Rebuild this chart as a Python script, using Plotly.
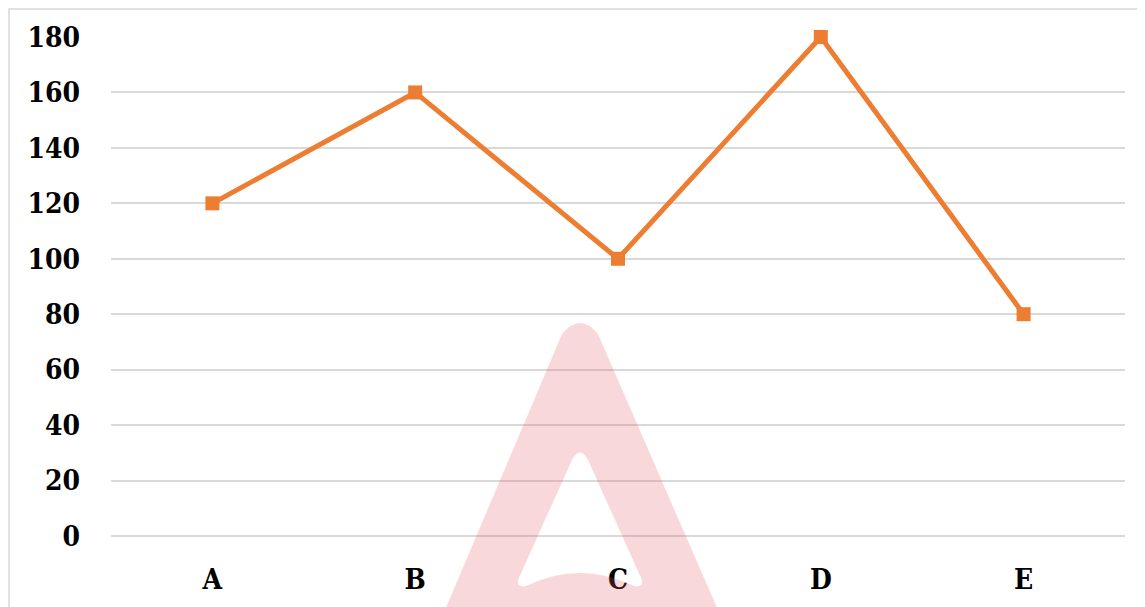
import plotly.graph_objects as go

categories = ["A", "B", "C", "D", "E"]
values = [120, 160, 100, 180, 80]
y_ticks = [0, 20, 40, 60, 80, 100, 120, 140, 160, 180]

W, H = 1145, 607
OFF = 8  # page body margin
L, T = 111 - OFF, 37 - OFF
PW, PH = 1014, 499
R, B = W - L - PW, H - T - PH

def px(x):
    return (x - OFF - L) / PW

def py(y):
    return (T + PH - (y - OFF)) / PH

FONT = dict(family="DejaVu Serif Condensed, DejaVu Serif, serif", size=28,
            color="#000000", weight="bold")

fig = go.Figure()
fig.add_trace(go.Scatter(
    x=categories, y=values, mode="lines+markers",
    line=dict(color="#ED7D31", width=5),
    marker=dict(symbol="square", size=14, color="#ED7D31"),
    cliponaxis=False, showlegend=False,
))

# watermark "A" logo
outer = (f"M {px(445)},{py(610)} L {px(562)},{py(334)} "
         f"Q {px(580)},{py(312)} {px(598)},{py(334)} "
         f"L {px(718)},{py(610)} Z")
inner = (f"M {px(572)},{py(460)} Q {px(580)},{py(445)} {px(588)},{py(460)} "
         f"L {px(642)},{py(580)} Q {px(643)},{py(588)} {px(634)},{py(586)} "
         f"Q {px(580)},{py(560)} {px(526)},{py(586)} "
         f"Q {px(517)},{py(588)} {px(518)},{py(580)} Z")
fig.add_shape(type="path", xref="paper", yref="paper", path=outer + " " + inner,
              fillcolor="rgba(230,90,110,0.24)", line=dict(width=0),
              fillrule="evenodd", layer="above")

# outer frame (as close to the page edge as the canvas allows)
fig.add_shape(type="rect", xref="paper", yref="paper",
              x0=px(OFF + 1), x1=px(1170), y0=py(630), y1=py(OFF + 1),
              line=dict(color="#d9d9d9", width=1.5), fillcolor="rgba(0,0,0,0)",
              layer="below")

fig.update_layout(
    width=W, height=H,
    margin=dict(l=L, r=R, t=T, b=B),
    paper_bgcolor="white", plot_bgcolor="white",
    font=FONT,
    xaxis=dict(type="category", range=[-0.5, 4.5], showgrid=False, zeroline=False,
               showline=False, ticks="", tickfont=FONT, ticklabelstandoff=24),
    yaxis=dict(range=[0, 180], tickvals=y_ticks, showgrid=True, gridcolor="#d9d9d9",
               gridwidth=1.5, zeroline=True, zerolinecolor="#d9d9d9", zerolinewidth=1.5,
               showline=False, ticks="", tickfont=FONT, ticklabelstandoff=30),
)

fig.write_html("out.html")
